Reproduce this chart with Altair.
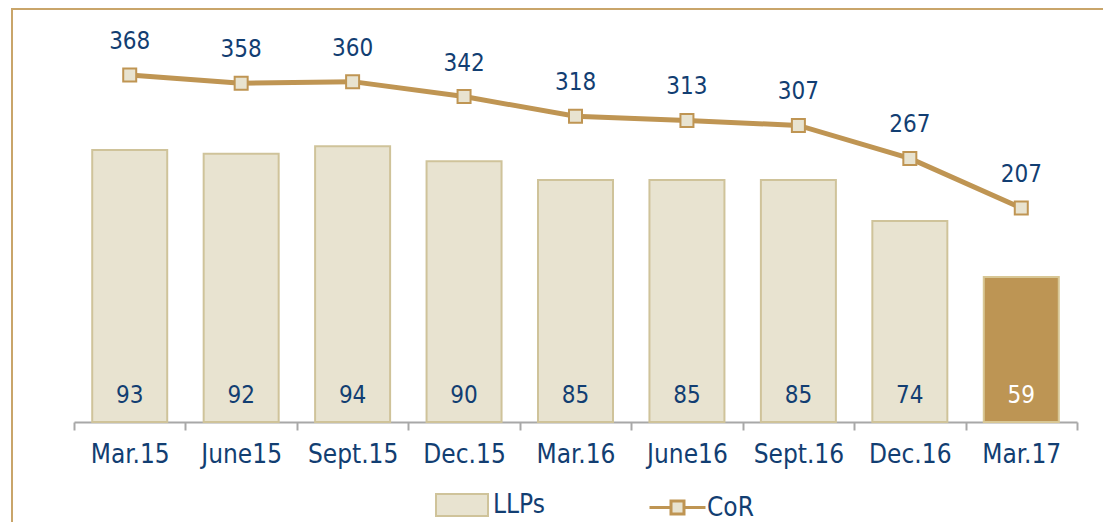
import altair as alt
import pandas as pd

periods = ["Mar.15", "June15", "Sept.15", "Dec.15", "Mar.16", "June16", "Sept.16", "Dec.16", "Mar.17"]
llps = [93, 92, 94, 90, 85, 85, 85, 74, 59]
cor = [368, 358, 360, 342, 318, 313, 307, 267, 207]
bar_series = ["LLPs"] * 8 + ["hl"]

NAVY = "#123E72"
GOLD = "#BF9553"
BEIGE = "#E8E3D0"
BAR_STROKE = "#CFC39A"
HL_STROKE = "#D8C795"
FRAME = "#C9A56A"
FONT = "DejaVu Sans Condensed, DejaVu Sans, sans-serif"

W, H = 1003, 402
BAR_DOMAIN = [20.2, 127.8]
LINE_DOMAIN = [-52, 434.6]

df = pd.DataFrame({"period": periods, "llps": llps, "cor": cor,
                   "series": bar_series, "s": ["CoR"] * len(periods)})

x = alt.X("period:N", sort=periods, title=None,
          scale=alt.Scale(paddingInner=0, paddingOuter=0),
          axis=alt.Axis(labelAngle=0, labelFontSize=26, labelColor=NAVY, labelFont=FONT,
                        tickBand="extent", tickSize=8, tickColor="#A8A8A8", tickWidth=2,
                        domainColor="#A8A8A8", domainWidth=2, labelPadding=11, grid=False))

base = alt.Chart(df)

ybar = alt.Y("llps:Q", scale=alt.Scale(domain=BAR_DOMAIN, zero=False, nice=False), axis=None)
yline = alt.Y("cor:Q", scale=alt.Scale(domain=LINE_DOMAIN, zero=False, nice=False), axis=None)

frame = alt.Chart(pd.DataFrame({"a": [0]})).mark_rect(
    fill=None, stroke=FRAME, strokeWidth=2
).encode(x=alt.value(-62), x2=alt.value(W + 200), y=alt.value(-11), y2=alt.value(H + 300))

bars = base.mark_bar(size=75, strokeWidth=2).encode(
    x=x, y=ybar, y2=alt.datum(BAR_DOMAIN[0]),
    fill=alt.Fill("series:N", scale=alt.Scale(domain=["LLPs", "hl"], range=[BEIGE, "#BD9554"]),
                  legend=alt.Legend(values=["LLPs"], title=None, orient="none", legendX=361, legendY=458,
                                    symbolType="M-1,-0.423H1V0.423H-1Z", symbolSize=2704,
                                    symbolStrokeColor=BAR_STROKE, symbolStrokeWidth=2,
                                    labelFontSize=26, labelColor=NAVY, labelFont=FONT, labelOffset=4)),
    stroke=alt.condition(alt.datum.series == "hl", alt.value(HL_STROKE), alt.value(BAR_STROKE)),
)

bar_text = base.mark_text(fontSize=24, font=FONT, baseline="middle", dy=-26).encode(
    x=x, y=alt.value(H), text="llps:Q",
    color=alt.condition(alt.datum.series == "hl", alt.value("white"), alt.value(NAVY)),
)

line = base.mark_line(strokeWidth=5).encode(
    x=x, y=yline,
    stroke=alt.Stroke("s:N", scale=alt.Scale(domain=["CoR"], range=[GOLD]),
                      legend=alt.Legend(title=None, orient="none", legendX=574, legendY=458,
                                        symbolType="M-1,0H-0.232M0.232,0H1M-0.232,-0.232H0.232V0.232H-0.232Z",
                                        symbolSize=3136, symbolStrokeWidth=3, symbolFillColor=BEIGE,
                                        labelFontSize=26, labelColor=NAVY, labelFont=FONT, labelOffset=0)),
)

points = base.mark_point(shape="square", size=169, filled=True, fill=BEIGE, stroke=GOLD,
                         strokeWidth=2, opacity=1).encode(x=x, y=yline)

line_text = base.mark_text(fontSize=24, font=FONT, baseline="middle", dy=-33, color=NAVY).encode(
    x=x, y=yline, text="cor:Q")

chart = alt.layer(frame, bars, bar_text, line, points, line_text).resolve_scale(
    y="independent"
).properties(
    width=W, height=H,
    autosize=alt.AutoSizeParams(type="none"),
    padding={"left": 66, "top": 12, "right": 26, "bottom": 100},
).configure(background="white", view=alt.ViewConfig(stroke=None))

chart.save("out.html", embed_options={"renderer": "svg", "actions": False})
